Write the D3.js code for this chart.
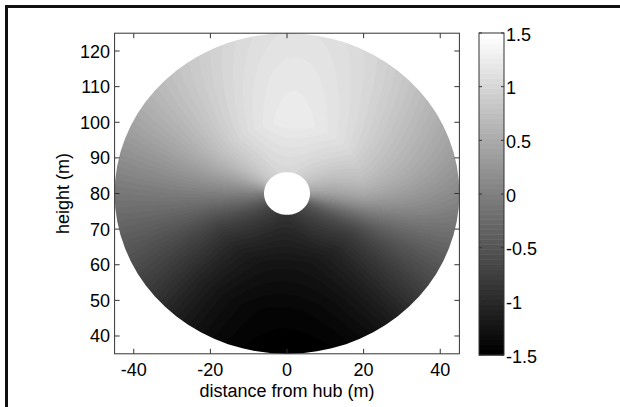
<!DOCTYPE html>
<html><head><meta charset="utf-8">
<script src="https://cdn.jsdelivr.net/npm/d3@7"></script>
<style>body{margin:0;background:#fff}svg{display:block;font-family:"Liberation Sans",Arial,sans-serif}</style>
</head><body><svg id="c" width="620" height="407"></svg>
<script>
// polar sample grid (angle clockwise from top, degrees)
const angles = [0, 30, 60, 90, 120, 150, 180, 210, 240, 270, 300, 330];
const radii = [6, 20, 33, 45];
const hubHeight = 80;
// values[angle][radius]
const values = [
  [1.00, 1.25, 1.20, 1.13],
  [0.95, 1.18, 1.08, 1.00],
  [0.75, 0.95, 0.75, 0.57],
  [0.30, 0.48, 0.30, 0.10],
  [-0.45, -0.65, -0.60, -0.55],
  [-0.75, -1.12, -1.22, -1.30],
  [-0.90, -1.25, -1.42, -1.50],
  [-0.80, -1.15, -1.27, -1.30],
  [-0.55, -0.78, -0.72, -0.65],
  [0.00, -0.02, -0.06, -0.10],
  [0.70, 0.67, 0.55, 0.48],
  [0.95, 1.08, 0.98, 0.90]
];
const xTicks = [-40, -20, 0, 20, 40];
const yTicks = [40, 50, 60, 70, 80, 90, 100, 110, 120];
const cTicks = [-1.5, -1, -0.5, 0, 0.5, 1, 1.5];
const cTickLabels = ["-1.5", "-1", "-0.5", "0", "0.5", "1", "1.5"];
const xLabel = "distance from hub (m)";
const yLabel = "height (m)";

const svg = d3.select("#c");
// figure frame
svg.append("line").attr("x1",5).attr("x2",620).attr("y1",6.5).attr("y2",6.5).attr("stroke","#111").attr("stroke-width",3);
svg.append("line").attr("x1",6.5).attr("x2",6.5).attr("y1",5).attr("y2",407).attr("stroke","#111").attr("stroke-width",3);

const L = 114.6, R = 459.4, T = 33.2, B = 353.8;
const x = d3.scaleLinear().domain([-45, 45]).range([L, R]);
const y = d3.scaleLinear().domain([35, 125]).range([B, T]);
const nLev = 64;
const grays = d3.range(nLev).map(i => { const g = Math.round(255 * i / (nLev - 1)); return `rgb(${g},${g},${g})`; });
const color = d3.scaleQuantize().domain([-1.5, 1.5]).range(grays);

// shading between the sampled grid nodes: periodic cubic in angle, linear in radius
function cr(p0, p1, p2, p3, t) {
  return 0.5 * (2 * p1 + (-p0 + p2) * t + (2 * p0 - 5 * p1 + 4 * p2 - p3) * t * t + (-p0 + 3 * p1 - 3 * p2 + p3) * t * t * t);
}
function valueAt(th, r) {
  const nA = angles.length;
  let i = nA - 1;
  for (let k = 0; k < nA; k++) if (th >= angles[k]) i = k;
  const a0 = angles[i], a1 = (i + 1 < nA ? angles[i + 1] : 360);
  const u = (th - a0) / (a1 - a0);
  const im = (i - 1 + nA) % nA, i1 = (i + 1) % nA, i2 = (i + 2) % nA;
  const rr = Math.max(radii[0], Math.min(radii[radii.length - 1], r));
  let j = 0;
  while (j < radii.length - 2 && rr > radii[j + 1]) j++;
  const w = (rr - radii[j]) / (radii[j + 1] - radii[j]);
  const at = jj => cr(values[im][jj], values[i][jj], values[i1][jj], values[i2][jj], u);
  return at(j) * (1 - w) + at(j + 1) * w;
}

const W = Math.ceil(R - L), H = Math.ceil(B - T);
const cv = document.createElement("canvas");
cv.width = W; cv.height = H;
const ctx = cv.getContext("2d");
const img = ctx.createImageData(W, H);
for (let py = 0; py < H; py++) {
  for (let px = 0; px < W; px++) {
    const mx = x.invert(L + px + 0.5), my = y.invert(T + py + 0.5) - hubHeight;
    const r = Math.hypot(mx, my);
    if (r > radii[radii.length - 1] + 2 || r < radii[0] - 2) continue;
    let th = Math.atan2(mx, my) * 180 / Math.PI;
    if (th < 0) th += 360;
    const c = d3.rgb(color(valueAt(th, r)));
    const o = (py * W + px) * 4;
    img.data[o] = c.r; img.data[o + 1] = c.g; img.data[o + 2] = c.b; img.data[o + 3] = 255;
  }
}
ctx.putImageData(img, 0, 0);

// disk outline (polygonal, like a pcolor mesh) with the hub hole
const nF = 72;
const rOut = radii[radii.length - 1], rIn = radii[0];
function ring(r, n) {
  return d3.range(n).map(k => {
    const t = k / n * 2 * Math.PI;
    return [x(r * Math.sin(t)), y(hubHeight + r * Math.cos(t))];
  });
}
const dPath = "M" + ring(rOut, nF).map(p => p.join(",")).join("L") + "Z" +
              "M" + ring(rIn, 120).map(p => p.join(",")).join("L") + "Z";
svg.append("defs").append("clipPath").attr("id", "diskclip")
  .append("path").attr("d", dPath).attr("clip-rule", "evenodd");
svg.append("image").attr("x", L).attr("y", T).attr("width", W).attr("height", H)
  .attr("preserveAspectRatio", "none")
  .attr("href", cv.toDataURL()).attr("clip-path", "url(#diskclip)");

// axes box
const ax = svg.append("g").attr("stroke", "#333").attr("stroke-width", 1).attr("fill", "none");
ax.append("rect").attr("x", L).attr("y", T).attr("width", R - L).attr("height", B - T);
const tl = 5;
xTicks.forEach(t => {
  ax.append("line").attr("x1", x(t)).attr("x2", x(t)).attr("y1", B).attr("y2", B - tl);
  ax.append("line").attr("x1", x(t)).attr("x2", x(t)).attr("y1", T).attr("y2", T + tl);
});
yTicks.forEach(t => {
  ax.append("line").attr("x1", L).attr("x2", L + tl).attr("y1", y(t)).attr("y2", y(t));
  ax.append("line").attr("x1", R).attr("x2", R - tl).attr("y1", y(t)).attr("y2", y(t));
});
const txt = svg.append("g").attr("font-size", 18).attr("fill", "#000");
xTicks.forEach(t => txt.append("text").attr("x", x(t)).attr("y", 376).attr("text-anchor", "middle").text(t));
yTicks.forEach(t => txt.append("text").attr("x", 110).attr("y", y(t) + 6.5).attr("text-anchor", "end").text(t));
txt.append("text").attr("x", (L + R) / 2).attr("y", 397).attr("text-anchor", "middle").text(xLabel);
txt.append("text").attr("transform", `translate(69,${(T + B) / 2}) rotate(-90)`).attr("text-anchor", "middle").text(yLabel);

// colorbar
const cx0 = 479, cx1 = 504, cT = 33, cB = 355;
const cy = d3.scaleLinear().domain([-1.5, 1.5]).range([cB, cT]);
const cb = svg.append("g");
const step = 3 / nLev;
d3.range(nLev).forEach(k => {
  const lo = -1.5 + k * step, hi = lo + step;
  cb.append("rect").attr("x", cx0).attr("width", cx1 - cx0).attr("y", cy(hi)).attr("height", cy(lo) - cy(hi) + 0.5)
    .attr("fill", color(lo + step / 2));
});
cb.append("rect").attr("x", cx0).attr("y", cT).attr("width", cx1 - cx0).attr("height", cB - cT)
  .attr("fill", "none").attr("stroke", "#333").attr("stroke-width", 1);
cTicks.forEach((t, k) => {
  cb.append("line").attr("x1", cx0).attr("x2", cx0 + 3).attr("y1", cy(t)).attr("y2", cy(t)).attr("stroke", "#333");
  cb.append("line").attr("x1", cx1).attr("x2", cx1 - 3).attr("y1", cy(t)).attr("y2", cy(t)).attr("stroke", "#333");
  txt.append("text").attr("x", 506).attr("y", cy(t) + 7.5).attr("text-anchor", "start").text(cTickLabels[k]);
});
</script></body></html>
